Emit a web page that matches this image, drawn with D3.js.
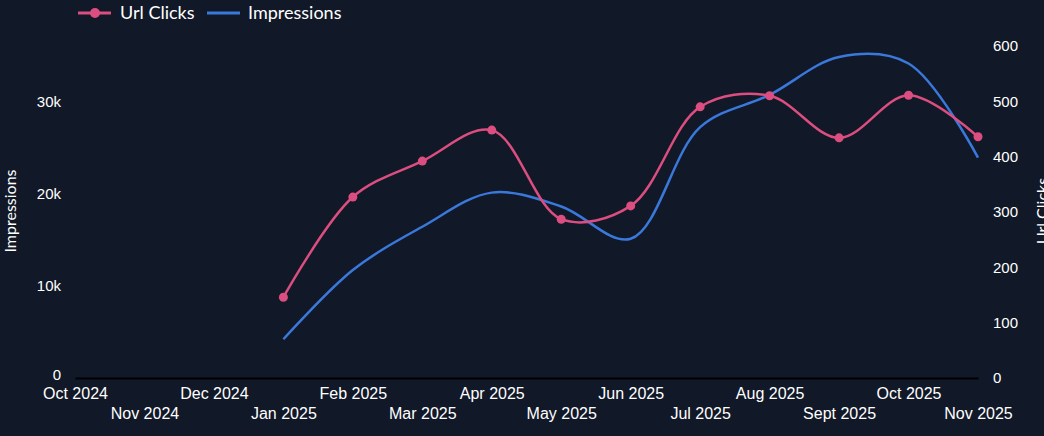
<!DOCTYPE html>
<html>
<head>
<meta charset="utf-8">
<script src="https://cdnjs.cloudflare.com/ajax/libs/d3/7.8.5/d3.min.js"></script>
<style>
  html, body { margin: 0; padding: 0; background: #111827; }
  svg { display: block; font-family: "Lato", "Open Sans", sans-serif; }
</style>
</head>
<body>
<svg id="chart" width="1044" height="436"></svg>
<script>
// month labels along the x axis
var months = ['Oct 2024', 'Nov 2024', 'Dec 2024', 'Jan 2025', 'Feb 2025', 'Mar 2025', 'Apr 2025',
    'May 2025', 'Jun 2025', 'Jul 2025', 'Aug 2025', 'Sept 2025', 'Oct 2025', 'Nov 2025'];

// months that actually have data
var dataMonths = ['Jan 2025', 'Feb 2025', 'Mar 2025', 'Apr 2025', 'May 2025', 'Jun 2025',
    'Jul 2025', 'Aug 2025', 'Sept 2025', 'Oct 2025', 'Nov 2025'];

var urlClicks = [146, 327, 392, 448, 287, 311, 490, 510, 434, 511, 436];
var impressions = [4200, 11700, 16400, 20100, 18600, 15100, 27200, 30700, 34800, 34100, 23900];

var leftTicks = [0, 10000, 20000, 30000];
var rightTicks = [0, 100, 200, 300, 400, 500, 600];

var pink = '#dc4d80';
var blue = '#3a78dc';

var svg = d3.select('#chart');

var x = d3.scalePoint()
    .domain(months)
    .range([75, 978]);

var yLeft = d3.scaleLinear()
    .domain([0, 36000])
    .range([378, 46]);

var yRight = d3.scaleLinear()
    .domain([0, 600])
    .range([378, 46]);

var fmtK = function(d) { return d === 0 ? '0' : (d / 1000) + 'k'; };

// left axis
var gl = svg.append('g')
    .attr('transform', 'translate(70,0)')
    .call(d3.axisLeft(yLeft).tickValues(leftTicks).tickFormat(fmtK).tickSize(0).tickPadding(9));
gl.select('.domain').remove();
gl.selectAll('text').attr('fill', '#fff').style('font-size', '15px')
    .attr('dy', function(d) { return d === 0 ? '0.1em' : '0.32em'; });

// right axis
var gr = svg.append('g')
    .attr('transform', 'translate(984,0)')
    .call(d3.axisRight(yRight).tickValues(rightTicks).tickSize(0).tickPadding(9));
gr.select('.domain').remove();
gr.selectAll('text').attr('fill', '#fff').style('font-size', '15px');

// x axis, labels staggered on two rows
var gx = svg.append('g')
    .attr('transform', 'translate(0,378)')
    .call(d3.axisBottom(x).tickSize(0).tickPadding(10));
gx.select('.domain').attr('stroke', '#000').attr('stroke-width', 2);
gx.selectAll('text')
    .attr('fill', '#fff')
    .style('font-size', '16px')
    .attr('y', function(d, i) { return i % 2 === 0 ? 10 : 30; });

// axis titles
svg.append('text')
    .attr('transform', 'translate(16,211) rotate(-90)')
    .attr('text-anchor', 'middle')
    .attr('fill', '#fff')
    .style('font-size', '16px')
    .text('Impressions');

// right title sits at the very edge, partly cut off as in the original
svg.append('text')
    .attr('transform', 'translate(1048,211) rotate(-90)')
    .attr('text-anchor', 'middle')
    .attr('fill', '#fff')
    .style('font-size', '16px')
    .text('Url Clicks');

// lines
var lineImp = d3.line()
    .x(function(d, i) { return x(dataMonths[i]); })
    .y(function(d) { return yLeft(d); })
    .curve(d3.curveCatmullRom.alpha(0.5));

var lineClicks = d3.line()
    .x(function(d, i) { return x(dataMonths[i]); })
    .y(function(d) { return yRight(d); })
    .curve(d3.curveCatmullRom.alpha(0.5));

svg.append('path')
    .datum(impressions)
    .attr('fill', 'none')
    .attr('stroke', blue)
    .attr('stroke-width', 2.5)
    .attr('d', lineImp);

svg.append('path')
    .datum(urlClicks)
    .attr('fill', 'none')
    .attr('stroke', pink)
    .attr('stroke-width', 2.5)
    .attr('d', lineClicks);

svg.selectAll('.dot')
    .data(urlClicks)
    .enter().append('circle')
    .attr('class', 'dot')
    .attr('cx', function(d, i) { return x(dataMonths[i]); })
    .attr('cy', function(d) { return yRight(d); })
    .attr('r', 4.5)
    .attr('fill', pink);

// legend
var legend = svg.append('g');
legend.append('line')
    .attr('x1', 78).attr('x2', 111).attr('y1', 13).attr('y2', 13)
    .attr('stroke', pink).attr('stroke-width', 3);
legend.append('circle')
    .attr('cx', 95).attr('cy', 13).attr('r', 5)
    .attr('fill', pink);
legend.append('text')
    .attr('x', 120).attr('y', 19)
    .attr('fill', '#fff')
    .style('font-size', '18px')
    .text('Url Clicks');
legend.append('line')
    .attr('x1', 207).attr('x2', 240).attr('y1', 13).attr('y2', 13)
    .attr('stroke', blue).attr('stroke-width', 3);
legend.append('text')
    .attr('x', 248).attr('y', 19)
    .attr('fill', '#fff')
    .style('font-size', '18px')
    .text('Impressions');
</script>
</body>
</html>
